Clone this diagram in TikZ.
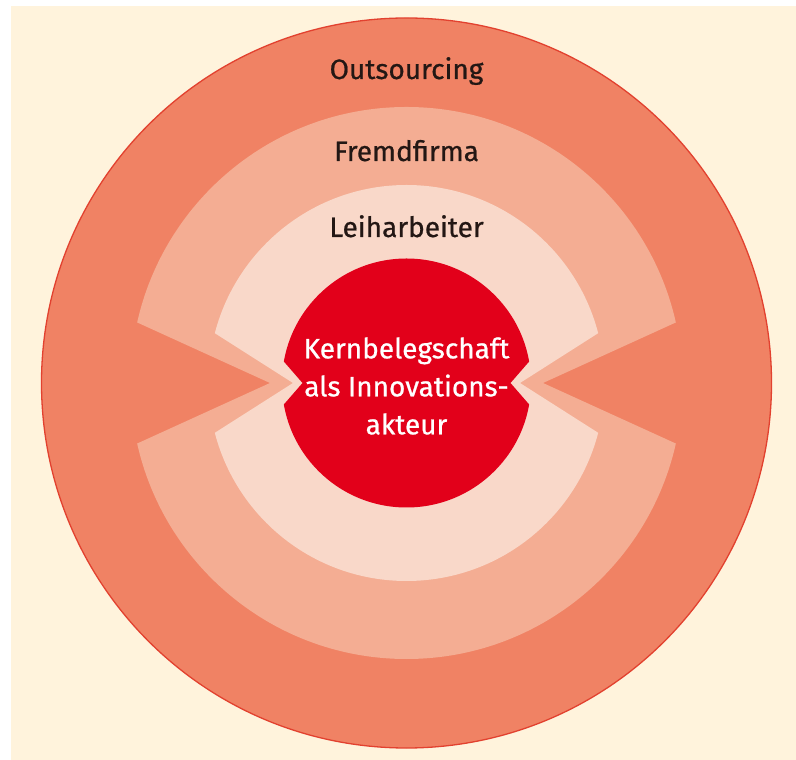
\documentclass[tikz,border=0pt]{standalone}
\usepackage{fontspec}
\setmainfont{Fira Sans}
\newfontfamily\labelfont{Fira Sans}[FakeBold=0.7]
\usetikzlibrary{calc}
\definecolor{cream}{HTML}{FFF3DC}
\definecolor{salmon}{HTML}{F08264}
\definecolor{rimred}{HTML}{E2412F}
\definecolor{midtone}{HTML}{F4AD93}
\definecolor{lighttone}{HTML}{F9D8C9}
\definecolor{corered}{HTML}{E2001A}
\definecolor{darktext}{HTML}{231714}
\tikzset{
  ringlabel/.style={anchor=base, inner sep=0pt, text=darktext, font=\labelfont\fontsize{28bp}{34bp}\selectfont},
  corelabel/.style={align=center, inner sep=0pt, text=white, font=\labelfont\fontsize{28bp}{38bp}\selectfont}
}
\begin{document}
\begin{tikzpicture}[x=1bp,y=1bp]
\useasboundingbox (0,0) rectangle (796,760);
\fill[white] (0,0) rectangle (796,760);
\fill[cream] (11,0) rectangle (796,754);
\coordinate (c) at (406.5,377);
% outer layer: Outsourcing
\draw[draw=rimred, line width=1.3bp, fill=salmon] (c) circle[radius=365bp];
% Fremdfirma layer
\coordinate (mL) at ($(c)+(-136.5,0)$);
\coordinate (mR) at ($(c)+(136.5,0)$);
\begin{scope}
  \clip (c) circle[radius=276bp];
  \fill[midtone, even odd rule] (c) circle[radius=300bp]
    (mL) -- ($(mL)+(155.5:450)$) -- ($(mL)+(204.5:450)$) -- cycle
    (mR) -- ($(mR)+(24.5:450)$) -- ($(mR)+(-24.5:450)$) -- cycle;
\end{scope}
% Leiharbeiter layer
\coordinate (lL) at ($(c)+(-113.5,0)$);
\coordinate (lR) at ($(c)+(113.5,0)$);
\begin{scope}
  \clip (c) circle[radius=198bp];
  \fill[lighttone, even odd rule] (c) circle[radius=220bp]
    (lL) -- ($(lL)+(147.5:350)$) -- ($(lL)+(212.5:350)$) -- cycle
    (lR) -- ($(lR)+(32.5:350)$) -- ($(lR)+(-32.5:350)$) -- cycle;
\end{scope}
% core
\coordinate (kL) at ($(c)+(-104,0)$);
\coordinate (kR) at ($(c)+(104,0)$);
\begin{scope}
  \clip (c) circle[radius=124.5bp];
  \fill[corered, even odd rule] (c) circle[radius=145bp]
    (kL) -- ($(kL)+(131:250)$) -- ($(kL)+(229:250)$) -- cycle
    (kR) -- ($(kR)+(49:250)$) -- ($(kR)+(-49:250)$) -- cycle;
\end{scope}
% labels
\node[ringlabel] (out) at (406.5,681) {Outsourcing};
\node[ringlabel] (fremd) at (406.5,599) {Fremdfirma};
\node[ringlabel] (leih) at (406.5,523) {Leiharbeiter};
\node[corelabel] (kern) at (406.5,374) {Kernbelegschaft\\als Innovations-\\akteur};
\end{tikzpicture}
\end{document}
